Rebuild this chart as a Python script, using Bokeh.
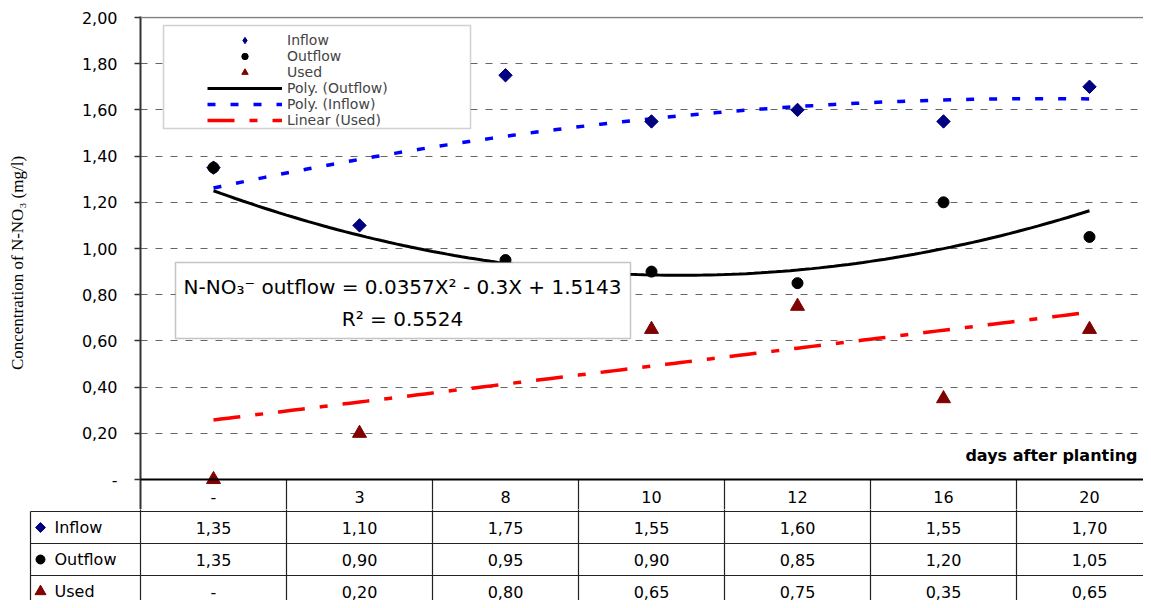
import numpy as np
from bokeh.plotting import figure
from bokeh.models import (Range1d, FixedTicker, CustomJSTickFormatter, Legend, LegendItem,
                          BoxAnnotation, Label, Span, ColumnDataSource)
from bokeh.embed import file_html
from bokeh.resources import INLINE
from bokeh.core.properties import value

# ---------------- data ----------------
categories = ["-", "3", "8", "10", "12", "16", "20"]
inflow = [1.35, 1.10, 1.75, 1.55, 1.60, 1.55, 1.70]
outflow = [1.35, 0.90, 0.95, 0.90, 0.85, 1.20, 1.05]
used = [0.00, 0.20, 0.80, 0.65, 0.75, 0.35, 0.65]
y_ticks = [0.0, 0.2, 0.4, 0.6, 0.8, 1.0, 1.2, 1.4, 1.6, 1.8, 2.0]
series_names = ["Inflow", "Outflow", "Used"]
outflow_poly = [0.0357, -0.3, 1.5143]   # equation printed on the chart
outflow_r2 = 0.5524
used_linear = [0.0777, 0.180]

# ---------------- layout constants ----------------
FONT = "DejaVu Sans"
FIG_W = 1143
LEFT_BORDER = 140          # frame starts at x=140
PX_PER_CAT = 146.0
PX_PER_UNIT = 231.0
ZERO_PX = 479              # pixel row of y = 0
X_END = 0.5 + (FIG_W - LEFT_BORDER) / PX_PER_CAT
TOP_BORDER = 16
MAIN_BOTTOM = 509          # main frame ends just above the table body
MAIN_H = MAIN_BOTTOM
Y_TOP = 2.0 + 1.0 / PX_PER_UNIT
Y_BOT = -(MAIN_BOTTOM - ZERO_PX) / PX_PER_UNIT

def px_x(px):   # pixel x -> data x (main frame)
    return 0.5 + (px - 140) / PX_PER_CAT

def px_y(py):   # pixel y -> data y (main frame)
    return (ZERO_PX - py) / PX_PER_UNIT

xs_idx = list(range(1, len(categories) + 1))

p = figure(width=FIG_W, height=MAIN_H, output_backend="svg", toolbar_location=None,
           x_range=Range1d(0.5, X_END), y_range=Range1d(Y_BOT, Y_TOP),
           min_border_left=LEFT_BORDER, min_border_right=0,
           min_border_top=TOP_BORDER, min_border_bottom=0)
p.outline_line_color = None
p.background_fill_color = "white"
p.border_fill_color = "white"
p.xaxis.visible = False
p.xgrid.visible = False

yax = p.yaxis[0]
yax.ticker = FixedTicker(ticks=y_ticks)
yax.formatter = CustomJSTickFormatter(code="return tick == 0 ? '-' : tick.toFixed(2).replace('.', ',');")
yax.axis_line_color = "#333333"
yax.axis_line_width = 2
yax.major_tick_line_color = "#333333"
yax.major_tick_line_width = 1.5
yax.major_tick_out = 6
yax.major_tick_in = 0
yax.minor_tick_out = 0
yax.minor_tick_in = 0
yax.major_label_standoff = 17
yax.major_label_text_font = FONT
yax.major_label_text_font_size = "16px"
yax.major_label_text_color = "black"
yax.axis_label = "Concentration of N-NO\u2083 (mg/l)"
yax.axis_label_text_font = "Liberation Serif"
yax.axis_label_text_font_size = "17px"
yax.axis_label_text_font_style = "normal"
yax.axis_label_text_color = "black"
yax.axis_label_standoff = 52

p.ygrid.grid_line_color = "#666666"
p.ygrid.grid_line_dash = "7 8"
p.ygrid.grid_line_width = 1

p.add_layout(Span(location=2.0, dimension="width", line_color="#808080", line_width=1.5))
p.add_layout(Span(location=0.0, dimension="width", line_color="black", line_width=2))

# column separators of the data table (header row part)
bounds = [i + 0.5 for i in xs_idx[:-1]]
p.segment(x0=bounds, y0=[0] * len(bounds), x1=bounds, y1=[Y_BOT - 1] * len(bounds),
          line_color="#222222", line_width=1.2)
# category header row of the data table
p.text(x=xs_idx, y=[px_y(496)] * len(xs_idx), text=categories, text_align="center",
       text_baseline="middle", text_font=value(FONT), text_font_size="16px", text_color="black")

# trend lines
xt = np.linspace(1, len(categories), 121)
inflow_fit = np.polyfit(np.array(xs_idx, float), np.array(inflow), 2)
r_out = p.line(xt, np.polyval(outflow_poly, xt), line_color="black", line_width=3)
r_in = p.line(xt, np.polyval(inflow_fit, xt), line_color="#0000FF", line_width=3.5,
              line_dash="8 15")
r_used = p.line(xt, np.polyval(used_linear, xt), line_color="#FF0000", line_width=3.5,
                line_dash="27 15 8 15")

src = ColumnDataSource(dict(x=xs_idx, inflow=inflow, outflow=outflow, used=used))
# diamond symbol used by the legend (fully covered by the rotated squares below)
s_in_leg = p.scatter("x", "inflow", source=src, marker="diamond", size=12,
                     fill_color="#000080", line_color="#000080")
s_in = p.scatter("x", "inflow", source=src, marker="square", angle=np.pi / 4, size=9.5,
                 fill_color="#000080", line_color="#000080")
s_out = p.scatter("x", "outflow", source=src, marker="circle", size=11,
                  fill_color="black", line_color="black")
s_used = p.scatter("x", "used", source=src, marker="triangle", size=14,
                   fill_color="#800000", line_color="#800000")

# legend box
p.add_layout(BoxAnnotation(left=px_x(163), right=px_x(470), top=px_y(25), bottom=px_y(128),
                           fill_color="white", fill_alpha=1, line_color="#666666",
                           line_width=1.5))
legend = Legend(items=[
    LegendItem(label="Inflow", renderers=[s_in_leg]),
    LegendItem(label="Outflow", renderers=[s_out]),
    LegendItem(label="Used", renderers=[s_used]),
    LegendItem(label="Poly. (Outflow)", renderers=[r_out]),
    LegendItem(label="Poly. (Inflow)", renderers=[r_in]),
    LegendItem(label="Linear (Used)", renderers=[r_used]),
], location=(67, MAIN_BOTTOM - 128), padding=0, margin=0, spacing=0,
    glyph_width=75, glyph_height=16, label_height=16, label_standoff=5,
    border_line_color=None, background_fill_alpha=0,
    label_text_font=FONT, label_text_font_size="14px")
p.add_layout(legend, "center")

# equation box
p.add_layout(BoxAnnotation(left=px_x(175), right=px_x(630), top=px_y(262), bottom=px_y(338),
                           fill_color="white", fill_alpha=1, line_color="#404040",
                           line_width=1.5))
eq1 = "N-NO\u2083\u207B outflow = %.4fX\u00B2 - %.1fX + %.4f" % (outflow_poly[0], -outflow_poly[1], outflow_poly[2])
eq2 = "R\u00B2 = %.4f" % outflow_r2
for txt, py in [(eq1, 286), (eq2, 318)]:
    p.add_layout(Label(x=px_x(402), y=px_y(py), text=txt, text_align="center",
                       text_baseline="middle", text_font=FONT, text_font_size="20px",
                       text_color="black"))

p.add_layout(Label(x=px_x(1137), y=px_y(455), text="days after planting",
                   text_align="right", text_baseline="middle", text_font=FONT,
                   text_font_size="16px", text_font_style="bold", text_color="black"))

# ---------------- data table body ----------------
ROW_PX = 32.0
TAB_LEFT = 28
TAB_H = 600 - MAIN_H
x0_tab = 0.5 - (140 - TAB_LEFT) / PX_PER_CAT
y_top_tab = 2.5 + (511 - MAIN_BOTTOM) / ROW_PX
y_bot_tab = y_top_tab - TAB_H / ROW_PX
t = figure(width=FIG_W, height=TAB_H, output_backend="svg", toolbar_location=None,
           x_range=Range1d(x0_tab, X_END), y_range=Range1d(y_bot_tab, y_top_tab),
           min_border_left=TAB_LEFT, min_border_right=0,
           min_border_top=0, min_border_bottom=0)
t.axis.visible = False
t.grid.visible = False
t.outline_line_color = None
t.background_fill_color = "white"
t.border_fill_color = "white"

label_left = 0.5 - (140 - 30) / PX_PER_CAT
vb = [i - 0.5 for i in xs_idx]
t.segment(x0=vb, y0=[4] * len(vb), x1=vb, y1=[-1] * len(vb), line_color="#222222", line_width=1.2)
t.segment(x0=[label_left], y0=[2.5], x1=[label_left], y1=[-1], line_color="#222222", line_width=1.2)
hb = [2.5, 1.5, 0.5]
t.segment(x0=[label_left] * 3, y0=hb, x1=[X_END + 1] * 3, y1=hb, line_color="#222222", line_width=1.2)

def fmt(v):
    return "-" if v == 0 else ("%.2f" % v).replace(".", ",")

rows = [(inflow, 2), (outflow, 1), (used, 0)]
for vals, ry in rows:
    t.text(x=xs_idx, y=[ry] * len(xs_idx), text=[fmt(v) for v in vals], text_align="center",
           text_baseline="middle", text_font=value(FONT), text_font_size="16px", text_color="black")

mark_x = 0.5 - (140 - 40) / PX_PER_CAT
text_x = 0.5 - (140 - 54) / PX_PER_CAT
t.scatter([mark_x], [2], marker="square", angle=np.pi / 4, size=7, fill_color="#000080", line_color="#000080")
t.scatter([mark_x], [1], marker="circle", size=9, fill_color="black", line_color="black")
t.scatter([mark_x], [0], marker="triangle", size=11, fill_color="#800000", line_color="#800000")
t.text(x=[text_x] * 3, y=[2, 1, 0], text=series_names, text_align="left", text_baseline="middle",
       text_font=value(FONT), text_font_size="16px", text_color="black")

open("out.html", "w").write(file_html([p, t], INLINE))
